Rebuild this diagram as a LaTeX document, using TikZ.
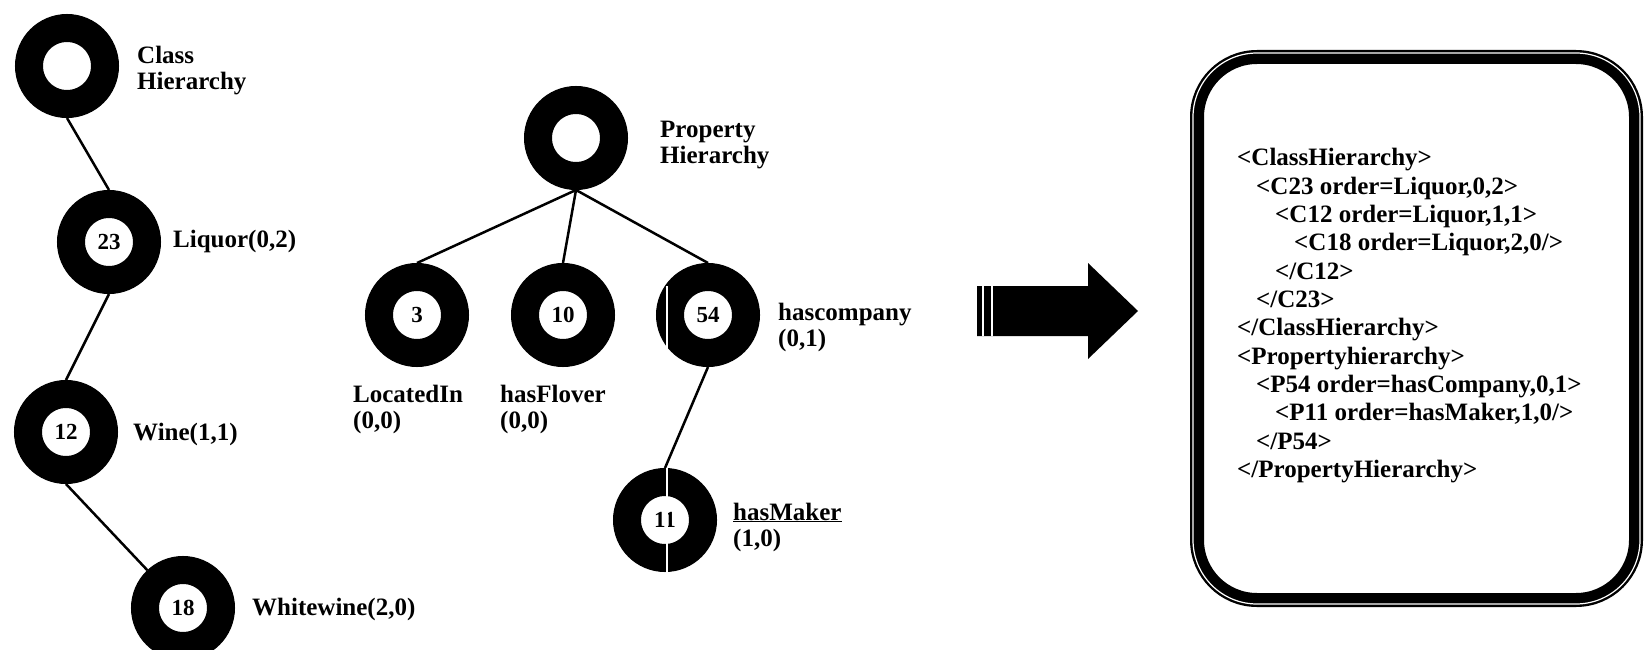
\documentclass[tikz,border=0pt]{standalone}
\usepackage{fontspec}
\setmainfont{Liberation Serif}
\begin{document}
\begin{tikzpicture}[x=1pt,y=-1pt,
  every node/.style={font=\fontsize{25}{26}\selectfont\bfseries},
  ring/.style={circle,draw=black,fill=white,line width=28pt,minimum size=76pt,
    inner sep=0pt,font=\fontsize{23}{23}\selectfont\bfseries},
  lbl/.style={anchor=west,align=left,inner sep=0pt},
  link/.style={line width=2.5pt},
  xml/.style={anchor=base west,inner sep=0pt},
  scratch/.style={white,line width=1.5pt}]
\clip (0,0) rectangle (1644,650);

% class hierarchy tree
\node[ring] (ch)  at (67,66)   {};
\node[ring] (c23) at (109,242) {23};
\node[ring] (c12) at (66,432)  {12};
\node[ring] (c18) at (183,608) {18};
\draw[link] (ch.south)  -- (c23.north);
\draw[link] (c23.south) -- (c12.north);
\draw[link] (c12.south) -- (c18);

\node[lbl] (chl)  at (137,71)  {Class\\Hierarchy};
\node[lbl] (c23l) at (173,241) {Liquor(0,2)};
\node[lbl] (c12l) at (133,434) {Wine(1,1)};
\node[lbl] (c18l) at (252,609) {Whitewine(2,0)};

% property hierarchy tree
\node[ring] (ph)  at (576,138) {};
\node[ring] (p3)  at (417,315) {3};
\node[ring] (p10) at (563,315) {10};
\node[ring] (p54) at (708,315) {54};
\node[ring] (p11) at (665,520) {11};
\draw[link] (ph.south)  -- (p3.north);
\draw[link] (ph.south)  -- (p10.north);
\draw[link] (ph.south)  -- (p54.north);
\draw[link] (p54.south) -- (p11.north);

% light scratches across two of the rings
\draw[scratch] (667,286) -- (667,349);
\draw[scratch] (667,468) -- (667,573);

\node[lbl] (phl)  at (660,145) {Property\\Hierarchy};
\node[lbl] (p3l)  at (353,409) {LocatedIn\\(0,0)};
\node[lbl] (p10l) at (500,409) {hasFlover\\(0,0)};
\node[lbl] (p54l) at (778,327) {hascompany\\(0,1)};
\node[lbl] (p11l) at (733,527) {\underline{hasMaker}\\(1,0)};

% block arrow
\fill (977,286) -- (1088,286) -- (1088,263) -- (1138,311)
  -- (1088,359) -- (1088,336) -- (977,336) -- cycle;
\draw[scratch] (983,286) -- (983,336);
\draw[scratch] (992,286) -- (992,336);

% XML listing in a rounded frame
\draw[line width=14pt,rounded corners=60pt] (1197,57) rectangle (1636,600);
\draw[white,line width=1.2pt,rounded corners=64pt] (1193,53) rectangle (1640,604);

\node[xml] (x1)  at (1237,166)   {<ClassHierarchy>};
\node[xml] (x2)  at (1256,194.3) {<C23 order=Liquor,0,2>};
\node[xml] (x3)  at (1275,222.6) {<C12 order=Liquor,1,1>};
\node[xml] (x4)  at (1294,250.9) {<C18 order=Liquor,2,0/>};
\node[xml] (x5)  at (1275,279.2) {</C12>};
\node[xml] (x6)  at (1256,307.5) {</C23>};
\node[xml] (x7)  at (1237,335.8) {</ClassHierarchy>};
\node[xml] (x8)  at (1237,364.1) {<Propertyhierarchy>};
\node[xml] (x9)  at (1256,392.4) {<P54 order=hasCompany,0,1>};
\node[xml] (x10) at (1275,420.7) {<P11 order=hasMaker,1,0/>};
\node[xml] (x11) at (1256,449)   {</P54>};
\node[xml] (x12) at (1237,477.3) {</PropertyHierarchy>};
\end{tikzpicture}
\end{document}
